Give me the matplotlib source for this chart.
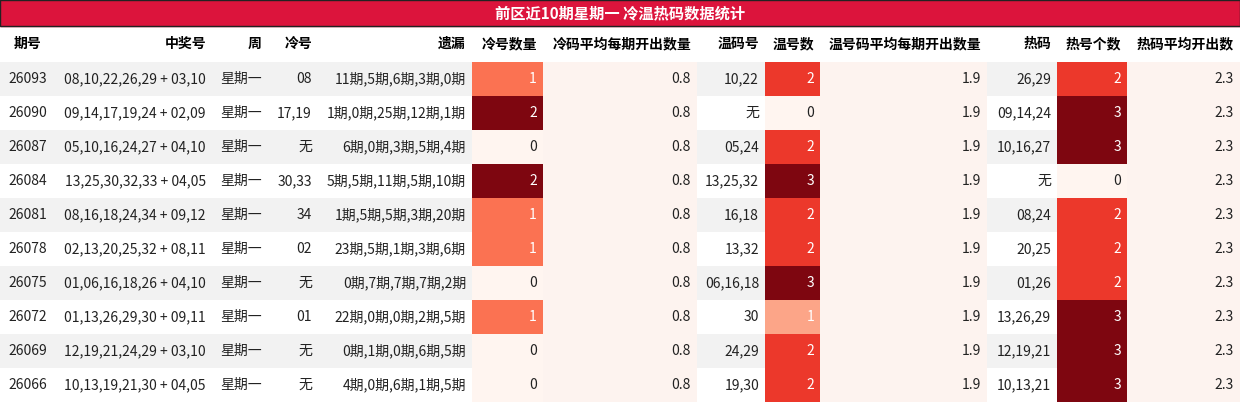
import matplotlib
matplotlib.use("Agg")
import matplotlib.pyplot as plt
from matplotlib.patches import Rectangle
import numpy as np

plt.rcParams['font.family'] = ['Noto Sans CJK SC', 'DejaVu Sans']

title = "前区近10期星期一 冷温热码数据统计"
headers = ["期号", "中奖号", "周", "冷号", "遗漏", "冷号数量", "冷码平均每期开出数量",
           "温码号", "温号数", "温号码平均每期开出数量", "热码", "热号个数", "热码平均开出数"]
issues = ["26093", "26090", "26087", "26084", "26081", "26078", "26075", "26072", "26069", "26066"]
numbers = ["08,10,22,26,29 + 03,10", "09,14,17,19,24 + 02,09", "05,10,16,24,27 + 04,10",
           "13,25,30,32,33 + 04,05", "08,16,18,24,34 + 09,12", "02,13,20,25,32 + 08,11",
           "01,06,16,18,26 + 04,10", "01,13,26,29,30 + 09,11", "12,19,21,24,29 + 03,10",
           "10,13,19,21,30 + 04,05"]
weekday = ["星期一"] * 10
cold = ["08", "17,19", "无", "30,33", "34", "02", "无", "01", "无", "无"]
missing = ["11期,5期,6期,3期,0期", "1期,0期,25期,12期,1期", "6期,0期,3期,5期,4期",
           "5期,5期,11期,5期,10期", "1期,5期,5期,3期,20期", "23期,5期,1期,3期,6期",
           "0期,7期,7期,7期,2期", "22期,0期,0期,2期,5期", "0期,1期,0期,6期,5期",
           "4期,0期,6期,1期,5期"]
cold_cnt = [1, 2, 0, 2, 1, 1, 0, 1, 0, 0]
cold_avg = [0.8] * 10
warm = ["10,22", "无", "05,24", "13,25,32", "16,18", "13,32", "06,16,18", "30", "24,29", "19,30"]
warm_cnt = [2, 0, 2, 3, 2, 2, 3, 1, 2, 2]
warm_avg = [1.9] * 10
hot = ["26,29", "09,14,24", "10,16,27", "无", "08,24", "20,25", "01,26", "13,26,29", "12,19,21", "10,13,21"]
hot_cnt = [2, 3, 3, 0, 2, 2, 2, 3, 3, 3]
hot_avg = [2.3] * 10

edges = [0, 55, 212, 268, 318, 472, 543, 697, 765, 820, 987, 1057, 1127, 1240]
W, H = 1240, 403
title_h, head_h, row_h = 26, 36, 34

columns = [issues, numbers, weekday, cold, missing, cold_cnt, cold_avg,
           warm, warm_cnt, warm_avg, hot, hot_cnt, hot_avg]
heat_cols = {5: cold_cnt, 8: warm_cnt, 11: hot_cnt}
avg_cols = {6, 9, 12}

fig = plt.figure(figsize=(W / 100, H / 100), dpi=100)
ax = fig.add_axes([0, 0, 1, 1])
ax.set_xlim(0, W)
ax.set_ylim(H, 0)
ax.axis('off')

ax.add_patch(Rectangle((0, 0), W, title_h, color='#dc143c'))
ax.add_patch(Rectangle((0, 0), W, title_h, fill=False, ec='#222222', lw=1))
ax.text(W / 2, title_h / 2, title, color='white', fontsize=11, fontweight='bold',
        ha='center', va='center')

for j, h in enumerate(headers):
    if j == 0:
        ax.text((edges[0] + edges[1]) / 2, title_h + head_h / 2, h, ha='center', va='center',
                fontsize=10, fontweight='bold')
    else:
        ax.text(edges[j + 1] - 6, title_h + head_h / 2, h, ha='right', va='center',
                fontsize=10, fontweight='bold')

cmap = plt.get_cmap('Reds')
for i in range(10):
    y0 = title_h + head_h + i * row_h
    bg = '#f2f2f2' if i % 2 == 0 else 'white'
    ax.add_patch(Rectangle((0, y0), W, row_h, color=bg, lw=0))
    for j, col in enumerate(columns):
        x0, x1 = edges[j], edges[j + 1]
        val = col[i]
        tc = '#222222'
        if j in heat_cols:
            vals = heat_cols[j]
            lo, hi = min(vals), max(vals)
            c = cmap((val - lo) / (hi - lo) * 0.95 + 0.05 * 0)
            ax.add_patch(Rectangle((x0, y0), x1 - x0, row_h, color=c, lw=0))
            if val > 0:
                tc = 'white'
        elif j in avg_cols:
            ax.add_patch(Rectangle((x0, y0), x1 - x0, row_h, color='#fdf3ef', lw=0))
        if j == 0:
            ax.text((x0 + x1) / 2, y0 + row_h / 2, str(val), ha='center', va='center',
                    fontsize=10, color=tc)
        else:
            ax.text(x1 - 6, y0 + row_h / 2, str(val), ha='right', va='center',
                    fontsize=10, color=tc)

fig.savefig("out.png", dpi=100)
